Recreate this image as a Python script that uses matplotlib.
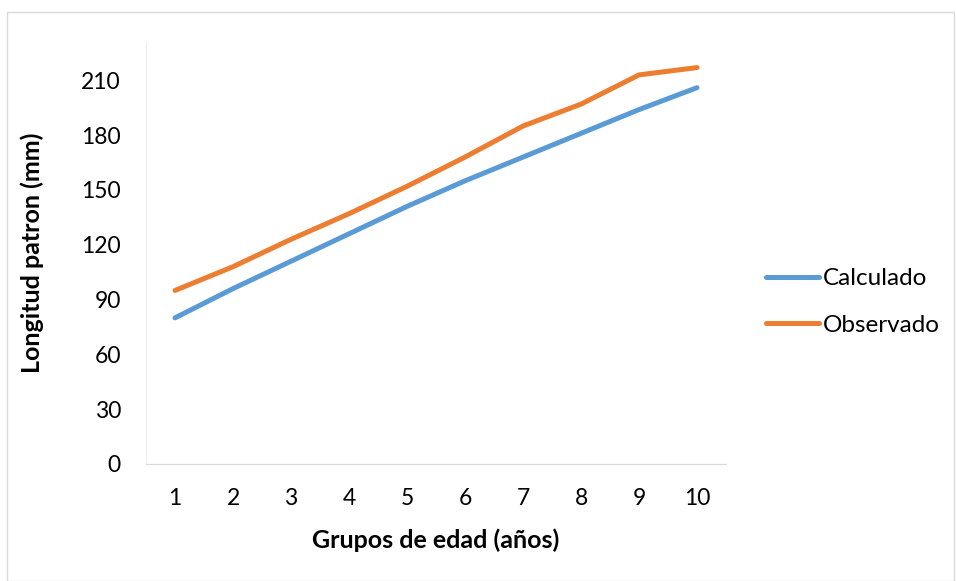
import numpy as np
import matplotlib.pyplot as plt
from matplotlib.patches import Rectangle

grupos = [1, 2, 3, 4, 5, 6, 7, 8, 9, 10]
calculado = [80, 96, 111, 126, 141, 155, 168, 181, 194, 206]
observado = [95, 108, 123, 137, 152, 168, 185, 197, 213, 217]
y_ticks = [0, 30, 60, 90, 120, 150, 180, 210]

plt.rcParams['font.family'] = ['Lato', 'DejaVu Sans']

fig = plt.figure(figsize=(9.56, 5.81), dpi=100)
# chart border
fig.patches.append(Rectangle((7 / 956, 0.0), 1 - 7 / 956 - 0.002, 1 - 12 / 581,
                             transform=fig.transFigure, fill=False,
                             edgecolor='#D9D9D9', linewidth=1))

ax = fig.add_axes([146 / 956, 1 - 464 / 581, 580 / 956, 422 / 581])
ax.plot(grupos, calculado, color='#5B9BD5', linewidth=3.6,
        solid_capstyle='round', label='Calculado')
ax.plot(grupos, observado, color='#ED7D31', linewidth=3.6,
        solid_capstyle='round', label='Observado')

ax.set_xlim(0.5, 10.5)
ax.set_ylim(0, 231)
ax.set_xticks(grupos)
ax.set_yticks(y_ticks)
ax.tick_params(length=0, labelsize=16.5, colors='black')
ax.tick_params(axis='x', pad=17)
ax.tick_params(axis='y', pad=18)

for s in ['top', 'right']:
    ax.spines[s].set_visible(False)
ax.spines['bottom'].set_color('#D9D9D9')
ax.spines['left'].set_color('#EEEEEE')
ax.spines['left'].set_linewidth(0.8)

ax.set_xlabel('Grupos de edad (años)', fontsize=18, fontweight='bold')
ax.set_ylabel('Longitud patron (mm)', fontsize=18, fontweight='bold')
ax.xaxis.set_label_coords(0.5, (464 - 540) / 422)
ax.xaxis.label.set_va('center')
ax.yaxis.set_label_coords((32 - 146) / 580, 0.5)
ax.yaxis.label.set_va('center')

ax.legend(loc='center left', bbox_to_anchor=(756 / 956, 1 - 302 / 581),
          bbox_transform=fig.transFigure, frameon=False, borderaxespad=0,
          fontsize=17.5, handlelength=2.2, handletextpad=0.15, labelspacing=1.05)

fig.savefig('out.png', dpi=100)
